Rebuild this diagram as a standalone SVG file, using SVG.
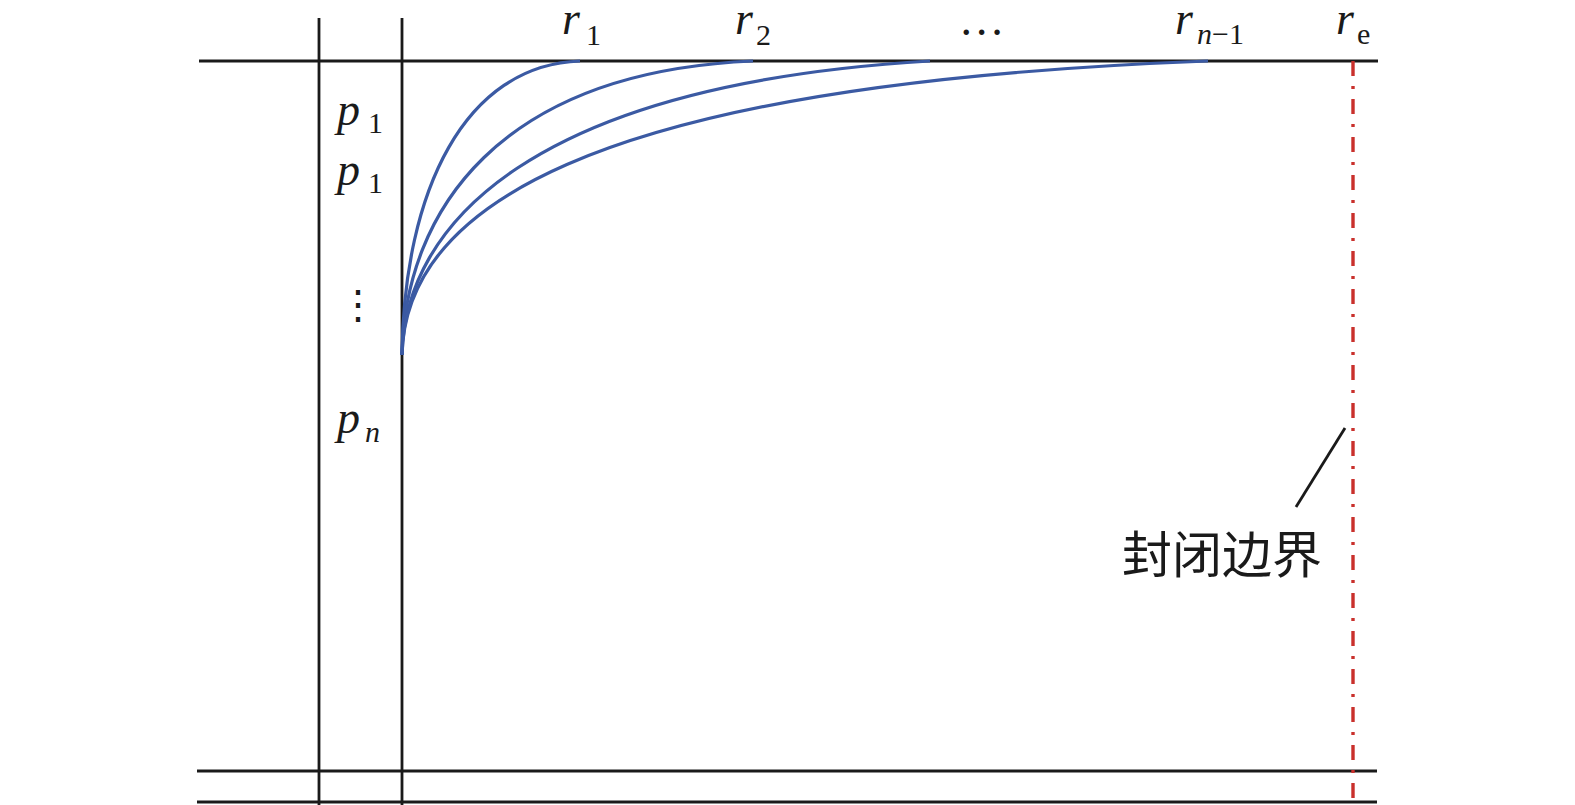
<svg xmlns="http://www.w3.org/2000/svg" width="1575" height="805" viewBox="0 0 1575 805">
<style>
.ln{stroke:#1a1a1a;stroke-width:2.8;fill:none}
.cv{stroke:#3b5aa3;stroke-width:3.2;fill:none}
text{fill:#1a1a1a}
.it{font-style:italic;font-size:46px}
.sb{font-size:30px}
.sbi{font-style:italic;font-size:30px}
</style>
<rect width="1575" height="805" fill="#fff"/>
<g id="grid">
<line class="ln" x1="199" y1="61" x2="1378" y2="61"/>
<line class="ln" x1="197" y1="771" x2="1377" y2="771"/>
<line class="ln" x1="197" y1="802" x2="1377" y2="802"/>
<line class="ln" x1="319" y1="18" x2="319" y2="805"/>
<line class="ln" x1="402" y1="18" x2="402" y2="805"/>
</g>
<g id="boundary">
<line x1="1353" y1="61" x2="1353" y2="805" stroke="#c9302c" stroke-width="3.4" stroke-dasharray="15 10 3 10"/>
</g>
<g id="connectors">
<path class="cv" d="M402,355 C404,190 465,65 580,61"/>
<path class="cv" d="M402,355 C405,210 500,72 753,61"/>
<path class="cv" d="M402,355 C405,225 530,85 930,61"/>
<path class="cv" d="M402,355 C405,215 570,85 1208,61"/>
<line class="ln" x1="1345" y1="428" x2="1296" y2="507"/>
</g>
<g id="labels-r" font-family="'Liberation Serif', serif">
<text class="it" x="562" y="34">r</text><text class="sb" x="586" y="45">1</text>
<text class="it" x="735" y="34">r</text><text class="sb" x="756" y="45">2</text>
<text class="it" x="962" y="35">…</text>
<text class="it" x="1175" y="34">r</text><text class="sbi" x="1197" y="44">n</text><text class="sb" x="1212" y="44">−1</text>
<text class="it" x="1336" y="34">r</text><text class="sb" x="1357" y="44">e</text>
</g>
<g id="labels-p" font-family="'Liberation Serif', serif">
<text class="it" x="337" y="125">p</text><text class="sb" x="368" y="133">1</text>
<text class="it" x="337" y="185">p</text><text class="sb" x="368" y="193">1</text>
<text x="358" y="318" font-size="40" text-anchor="middle">⋮</text>
<text class="it" x="337" y="433">p</text><text class="sbi" x="365" y="442">n</text>
</g>
<g id="label-boundary">
<text x="1122" y="573" font-family="'Noto Sans CJK SC', sans-serif" font-size="50">封闭边界</text>
</g>
</svg>
